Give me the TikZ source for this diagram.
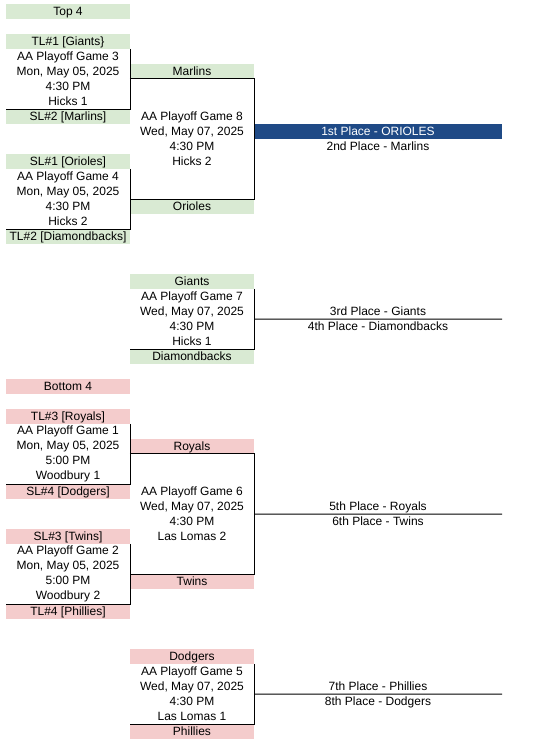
\documentclass[tikz,border=0pt]{standalone}
\usepackage{fontspec}
\setmainfont{Liberation Sans}
\usepackage{xcolor}
\usetikzlibrary{positioning}
\definecolor{seedgreen}{HTML}{D9EAD3}
\definecolor{seedpink}{HTML}{F4CCCC}
\definecolor{champblue}{HTML}{1F4A86}

\begin{document}
\begin{tikzpicture}[x=1pt, y=-1pt,
    cell/.style={minimum width=124pt, minimum height=15pt, inner sep=0pt, font=\fontsize{12}{15}\selectfont},
    label/.style={cell, text height=8.6pt, text depth=0pt},
    topcell/.style={label, fill=seedgreen},
    botcell/.style={label, fill=seedpink},
    game/.style={cell, align=center},
    place/.style={label, minimum width=248pt},
    bracket/.style={line width=1pt}]
    \useasboundingbox (0,0) rectangle (549,745);

    % Top 4 seeds, first round
    \node[topcell] (top4) at (68,11.5) {Top 4};
    \node[topcell] (tl1) at (68,41.5) {TL\#1 [Giants\}};
    \node[game, minimum height=60pt] (g3) at (68,79) {AA Playoff Game 3\\Mon, May 05, 2025\\4:30 PM\\Hicks 1};
    \node[topcell] (sl2) at (68,116.5) {SL\#2 [Marlins]};
    \node[topcell] (sl1) at (68,161.5) {SL\#1 [Orioles]};
    \node[game, minimum height=60pt] (g4) at (68,199) {AA Playoff Game 4\\Mon, May 05, 2025\\4:30 PM\\Hicks 2};
    \node[topcell] (tl2) at (68,236.5) {TL\#2 [Diamondbacks]};

    % Top 4 final and consolation
    \node[topcell] (marlins) at (192,71.5) {Marlins};
    \node[game, minimum height=120pt] (g8) at (192,139) {AA Playoff Game 8\\Wed, May 07, 2025\\4:30 PM\\Hicks 2};
    \node[topcell] (orioles) at (192,206.5) {Orioles};
    \node[topcell] (giants) at (192,281.5) {Giants};
    \node[game, minimum height=60pt] (g7) at (192,319) {AA Playoff Game 7\\Wed, May 07, 2025\\4:30 PM\\Hicks 1};
    \node[topcell] (dbacks) at (192,356.5) {Diamondbacks};

    % Top 4 places
    \node[place, fill=champblue, text=white] (first) at (378,131.5) {1st Place - ORIOLES};
    \node[place] (second) at (378,146.5) {2nd Place - Marlins};
    \node[place] (third) at (378,311.5) {3rd Place - Giants};
    \node[place] (fourth) at (378,326.5) {4th Place - Diamondbacks};

    % Bottom 4 seeds, first round
    \node[botcell] (bot4) at (68,386.5) {Bottom 4};
    \node[botcell] (tl3) at (68,416.5) {TL\#3 [Royals]};
    \node[game, minimum height=60pt] (g1) at (68,454) {AA Playoff Game 1\\Mon, May 05, 2025\\5:00 PM\\Woodbury 1};
    \node[botcell] (sl4) at (68,491.5) {SL\#4 [Dodgers]};
    \node[botcell] (sl3) at (68,536.5) {SL\#3 [Twins]};
    \node[game, minimum height=60pt] (g2) at (68,574) {AA Playoff Game 2\\Mon, May 05, 2025\\5:00 PM\\Woodbury 2};
    \node[botcell] (tl4) at (68,611.5) {TL\#4 [Phillies]};

    % Bottom 4 final and consolation
    \node[botcell] (royals) at (192,446.5) {Royals};
    \node[game, minimum height=120pt] (g6) at (192,514) {AA Playoff Game 6\\Wed, May 07, 2025\\4:30 PM\\Las Lomas 2};
    \node[botcell] (twins) at (192,581.5) {Twins};
    \node[botcell] (dodgers) at (192,656.5) {Dodgers};
    \node[game, minimum height=60pt] (g5) at (192,694) {AA Playoff Game 5\\Wed, May 07, 2025\\4:30 PM\\Las Lomas 1};
    \node[botcell] (phillies) at (192,731.5) {Phillies};

    % Bottom 4 places
    \node[place] (fifth) at (378,506.5) {5th Place - Royals};
    \node[place] (sixth) at (378,521.5) {6th Place - Twins};
    \node[place] (seventh) at (378,686.5) {7th Place - Phillies};
    \node[place] (eighth) at (378,701.5) {8th Place - Dodgers};

    % Bracket lines
    \draw[bracket] (g3.north east) -- (g3.south east) -- (g3.south west);
    \draw[bracket] (g4.north east) -- (g4.south east) -- (g4.south west);
    \draw[bracket] (g1.north east) -- (g1.south east) -- (g1.south west);
    \draw[bracket] (g2.north east) -- (g2.south east) -- (g2.south west);
    \draw[bracket] (g7.north east) -- (g7.south east) -- (g7.south west);
    \draw[bracket] (g5.north east) -- (g5.south east) -- (g5.south west);
    \draw[bracket] (g8.north west) -- (g8.north east) -- (g8.south east) -- (g8.south west);
    \draw[bracket] (g6.north west) -- (g6.north east) -- (g6.south east) -- (g6.south west);
    \draw[bracket] (g7.east) -- (third.south east);
    \draw[bracket] (g6.east) -- (fifth.south east);
    \draw[bracket] (g5.east) -- (seventh.south east);
\end{tikzpicture}
\end{document}
